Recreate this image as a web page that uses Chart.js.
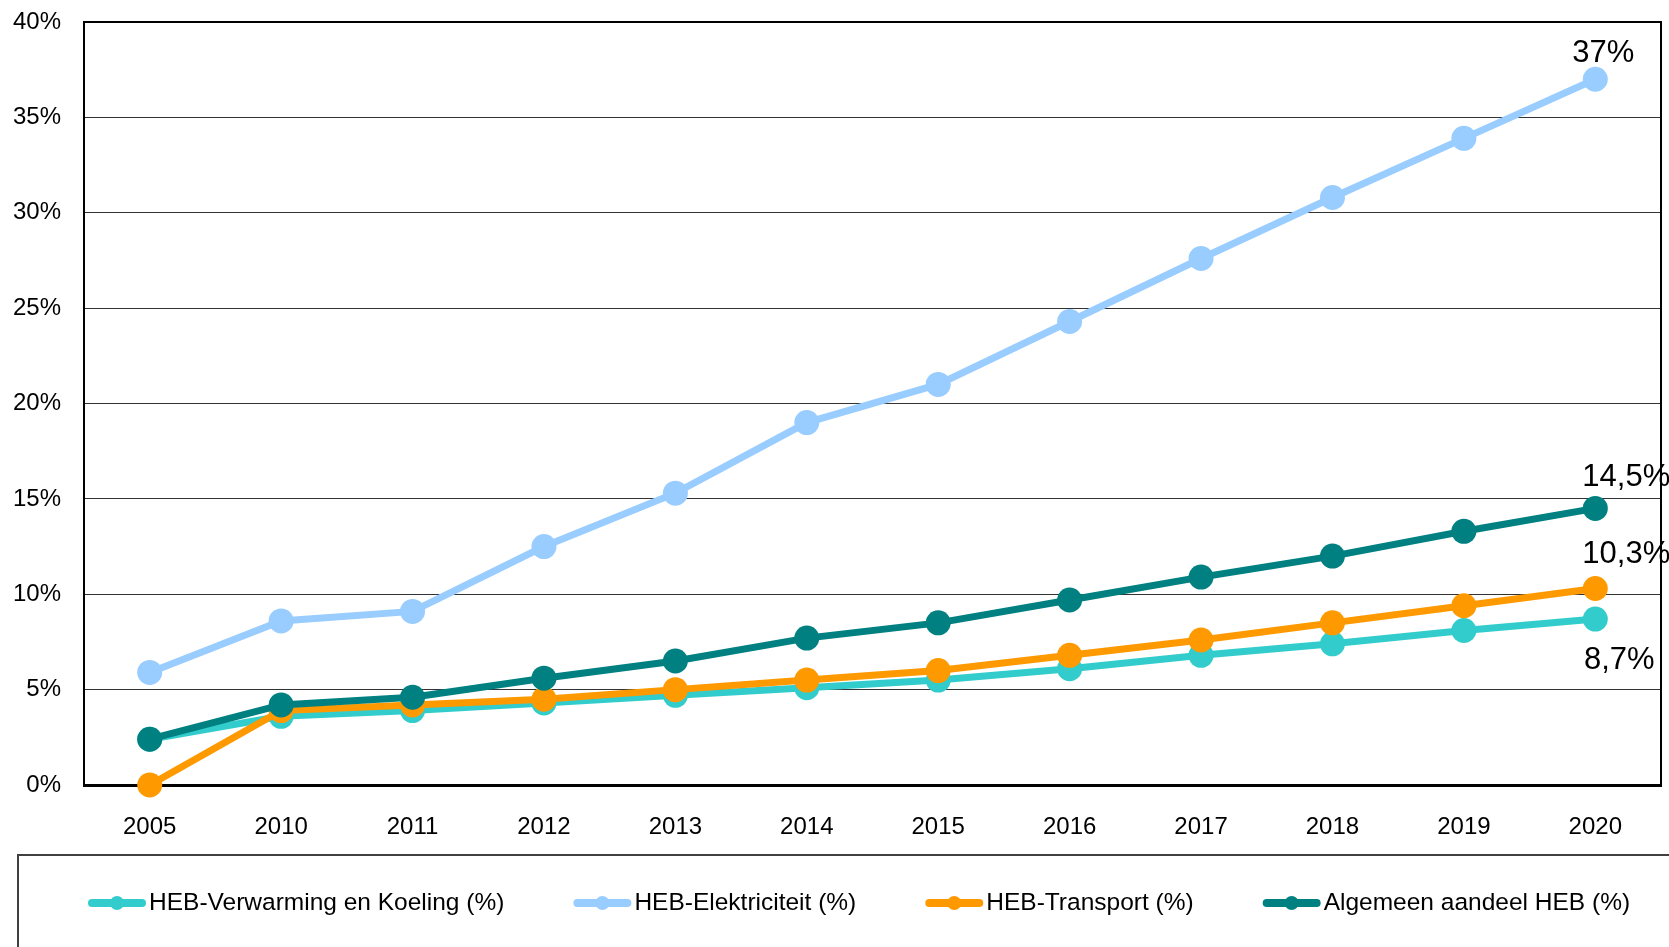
<!DOCTYPE html>
<html lang="nl">
<head>
<meta charset="utf-8">
<title>Aandeel hernieuwbare energie</title>
<script src="https://cdn.jsdelivr.net/npm/chart.js@4.4.1/dist/chart.umd.min.js"></script>
<style>
    html, body {
        margin: 0;
        padding: 0;
        background: #ffffff;
    }

    #wrap {
        position: relative;
        width: 1669px;
        height: 947px;
    }
</style>
</head>
<body>

<div id="wrap">
    <canvas id="hebChart"></canvas>
</div>

<script>

// ======================================
// Data
// ======================================

const years = [
    "2005", "2010", "2011", "2012", "2013", "2014",
    "2015", "2016", "2017", "2018", "2019", "2020"
];

const verwarming = [2.4, 3.6, 3.9, 4.3, 4.7, 5.1, 5.5, 6.1, 6.8, 7.4, 8.1, 8.7];

const elektriciteit = [5.9, 8.6, 9.1, 12.5, 15.3, 19.0, 21.0, 24.3, 27.6, 30.8, 33.9, 37];

const transport = [0, 3.9, 4.2, 4.5, 5.0, 5.5, 6.0, 6.8, 7.6, 8.5, 9.4, 10.3];

const algemeen = [2.4, 4.2, 4.6, 5.6, 6.5, 7.7, 8.5, 9.7, 10.9, 12.0, 13.3, 14.5];

const yTicks = [0, 5, 10, 15, 20, 25, 30, 35, 40];

// ======================================
// Colors
// ======================================

const cyan = "#33cccc";
const lightBlue = "#99ccff";
const orange = "#ff9900";
const teal = "#008080";

const fontFamily = "'Liberation Sans', Arial, Helvetica, sans-serif";

// ======================================
// Helpers
// ======================================

function pct(value) {

    return String(value).replace(".", ",") + "%";

}

function lineDataset(label, data, color, order, labelOffset) {

    return {

        label: label,
        data: data,
        borderColor: color,
        backgroundColor: color,
        borderWidth: 7,
        pointRadius: 12.5,
        pointHoverRadius: 12.5,
        pointBorderWidth: 0,
        pointBackgroundColor: color,
        tension: 0,
        clip: false,
        order: order,
        labelOffset: labelOffset

    };

}

// ======================================
// Frame round the plot area
// ======================================

const framePlugin = {

    id: "frame",

    beforeDatasetsDraw(chart) {

        const { ctx, chartArea } = chart;

        ctx.save();
        ctx.strokeStyle = "#000000";
        ctx.lineWidth = 2;
        ctx.strokeRect(
            chartArea.left,
            chartArea.top,
            chartArea.right - chartArea.left,
            chartArea.bottom - chartArea.top
        );
        ctx.restore();

    }

};

// ======================================
// Value labels on the last year
// ======================================

const endLabelPlugin = {

    id: "endLabels",

    afterDatasetsDraw(chart) {

        const ctx = chart.ctx;

        ctx.save();
        ctx.font = "31px " + fontFamily;
        ctx.fillStyle = "#000000";
        ctx.textAlign = "center";
        ctx.textBaseline = "middle";

        chart.data.datasets.forEach((ds, i) => {

            const meta = chart.getDatasetMeta(i);
            const last = meta.data.length - 1;
            const point = meta.data[last];
            const off = ds.labelOffset;

            ctx.fillText(
                pct(ds.data[last]),
                point.x + off[0],
                point.y + off[1]
            );

        });

        ctx.restore();

    }

};

// ======================================
// Legend in a box under the chart
// ======================================

const boxLegendPlugin = {

    id: "boxLegend",

    afterDraw(chart) {

        const ctx = chart.ctx;

        ctx.save();

        ctx.strokeStyle = "#404040";
        ctx.lineWidth = 2;
        ctx.strokeRect(18, 855, chart.width + 40, 200);

        ctx.font = "24.5px " + fontFamily;
        ctx.textBaseline = "middle";
        ctx.textAlign = "left";

        const y = 903;
        let x = 88;

        chart.data.datasets.forEach(ds => {

            ctx.strokeStyle = ds.borderColor;
            ctx.lineWidth = 8;
            ctx.lineCap = "round";
            ctx.beginPath();
            ctx.moveTo(x + 4, y);
            ctx.lineTo(x + 54, y);
            ctx.stroke();

            ctx.fillStyle = ds.borderColor;
            ctx.beginPath();
            ctx.arc(x + 29, y, 7, 0, Math.PI * 2);
            ctx.fill();

            ctx.fillStyle = "#000000";
            ctx.fillText(ds.label, x + 61, y);

            x += 61 + ctx.measureText(ds.label).width + 69;

        });

        ctx.restore();

    }

};

// ======================================
// Chart
// ======================================

new Chart(document.getElementById("hebChart"), {

    type: "line",

    data: {

        labels: years,

        datasets: [

            lineDataset("HEB-Verwarming en Koeling (%)", verwarming, cyan, 4, [24, 41]),

            lineDataset("HEB-Elektriciteit (%)", elektriciteit, lightBlue, 3, [8, -26]),

            lineDataset("HEB-Transport (%)", transport, orange, 2, [31, -34]),

            lineDataset("Algemeen aandeel HEB (%)", algemeen, teal, 1, [31, -31])

        ]

    },

    options: {

        responsive: true,
        maintainAspectRatio: false,
        animation: false,

        layout: {

            autoPadding: false,

            padding: {
                top: 22,
                right: 8,
                bottom: 0,
                left: 0
            }

        },

        plugins: {

            legend: {
                display: false
            },

            tooltip: {
                enabled: false
            }

        },

        scales: {

            x: {

                offset: true,

                afterFit(scale) {
                    scale.height = 162;
                    scale.paddingLeft = 0;
                    scale.paddingRight = 0;
                },

                grid: {
                    display: false
                },

                border: {
                    color: "#000000",
                    width: 3
                },

                ticks: {
                    color: "#000000",
                    padding: 20,
                    font: {
                        family: fontFamily,
                        size: 24
                    }
                }

            },

            y: {

                min: yTicks[0],
                max: yTicks[yTicks.length - 1],

                afterFit(scale) {
                    scale.width = 84;
                    scale.paddingTop = 0;
                    scale.paddingBottom = 0;
                },

                afterBuildTicks(scale) {
                    scale.ticks = yTicks.map(v => ({ value: v }));
                },

                grid: {
                    drawTicks: false,
                    color: "#333333",
                    lineWidth: 1
                },

                border: {
                    color: "#000000",
                    width: 2
                },

                ticks: {
                    color: "#000000",
                    padding: 23,
                    font: {
                        family: fontFamily,
                        size: 24
                    },
                    callback: value => value + "%"
                }

            }

        }

    },

    plugins: [framePlugin, endLabelPlugin, boxLegendPlugin]

});

</script>

</body>
</html>
